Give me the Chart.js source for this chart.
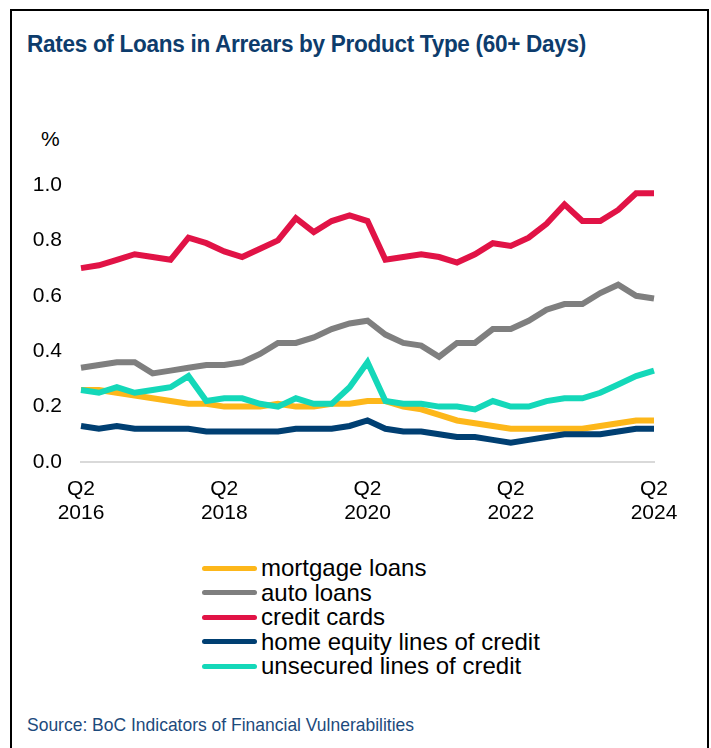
<!DOCTYPE html>
<html>
<head>
<meta charset="utf-8">
<script src="https://cdn.jsdelivr.net/npm/chart.js@4.4.1/dist/chart.umd.min.js"></script>
<style>
  html, body { margin: 0; padding: 0; background: #fff; }
  body { width: 711px; height: 748px; position: relative; overflow: hidden; font-family: "Liberation Sans", Arial, sans-serif; }
  .frame { position: absolute; left: 10px; top: 9px; width: 695px; height: 760px; border: 2px solid #000; border-bottom: none; }
  .title { position: absolute; left: 27px; top: 31px; font-family: "Liberation Sans", Arial, sans-serif; font-weight: bold; font-size: 23px; color: #0d3c6c; white-space: nowrap; transform-origin: left top; transform: scaleX(0.98); letter-spacing: -0.3px; }
  .unit { position: absolute; left: 41px; top: 127px; font-size: 21px; color: #000; }
  #chartWrap { position: absolute; left: 0; top: 0; width: 711px; height: 540px; }
  #legend { position: absolute; left: 202px; top: 556px; }
  #legend .row { height: 24.5px; display: flex; align-items: center; font-size: 24px; color: #000; white-space: nowrap; }
  #legend .swatch { width: 55px; height: 5px; border-radius: 3px; margin-right: 4px; }
  .source { position: absolute; left: 27px; top: 714px; font-family: "Liberation Sans", Arial, sans-serif; font-size: 19px; color: #1c4a7c; white-space: nowrap; transform-origin: left top; transform: scaleX(0.92); }
</style>
</head>
<body>
<div class="frame"></div>
<div class="title">Rates of Loans in Arrears by Product Type (60+ Days)</div>
<div class="unit">%</div>
<div id="chartWrap"><canvas id="arrearsChart" width="711" height="540"></canvas></div>
<div id="legend"></div>
<div class="source">Source: BoC Indicators of Financial Vulnerabilities</div>

<script>
// quarters, Q2 2016 through Q2 2024
const quarters = [
  "2016Q2", "2016Q3", "2016Q4", "2017Q1", "2017Q2", "2017Q3", "2017Q4", "2018Q1",
  "2018Q2", "2018Q3", "2018Q4", "2019Q1", "2019Q2", "2019Q3", "2019Q4", "2020Q1",
  "2020Q2", "2020Q3", "2020Q4", "2021Q1", "2021Q2", "2021Q3", "2021Q4", "2022Q1",
  "2022Q2", "2022Q3", "2022Q4", "2023Q1", "2023Q2", "2023Q3", "2023Q4", "2024Q1",
  "2024Q2"
];

const mortgageLoans = [
  0.26, 0.26, 0.25, 0.24, 0.23, 0.22, 0.21, 0.21, 0.20, 0.20, 0.20, 0.21, 0.20, 0.20, 0.21, 0.21,
  0.22, 0.22, 0.20, 0.19, 0.17, 0.15, 0.14, 0.13, 0.12, 0.12, 0.12, 0.12, 0.12, 0.13, 0.14, 0.15,
  0.15
];
const autoLoans = [
  0.34, 0.35, 0.36, 0.36, 0.32, 0.33, 0.34, 0.35, 0.35, 0.36, 0.39, 0.43, 0.43, 0.45, 0.48, 0.50,
  0.51, 0.46, 0.43, 0.42, 0.38, 0.43, 0.43, 0.48, 0.48, 0.51, 0.55, 0.57, 0.57, 0.61, 0.64, 0.60,
  0.59
];
const creditCards = [
  0.70, 0.71, 0.73, 0.75, 0.74, 0.73, 0.81, 0.79, 0.76, 0.74, 0.77, 0.80, 0.88, 0.83, 0.87, 0.89,
  0.87, 0.73, 0.74, 0.75, 0.74, 0.72, 0.75, 0.79, 0.78, 0.81, 0.86, 0.93, 0.87, 0.87, 0.91, 0.97,
  0.97
];
const homeEquityLines = [
  0.13, 0.12, 0.13, 0.12, 0.12, 0.12, 0.12, 0.11, 0.11, 0.11, 0.11, 0.11, 0.12, 0.12, 0.12, 0.13,
  0.15, 0.12, 0.11, 0.11, 0.10, 0.09, 0.09, 0.08, 0.07, 0.08, 0.09, 0.10, 0.10, 0.10, 0.11, 0.12,
  0.12
];
const unsecuredLines = [
  0.26, 0.25, 0.27, 0.25, 0.26, 0.27, 0.31, 0.22, 0.23, 0.23, 0.21, 0.20, 0.23, 0.21, 0.21, 0.27,
  0.36, 0.22, 0.21, 0.21, 0.20, 0.20, 0.19, 0.22, 0.20, 0.20, 0.22, 0.23, 0.23, 0.25, 0.28, 0.31,
  0.33
];

const yTicks = [0.0, 0.2, 0.4, 0.6, 0.8, 1.0];

const series = [
  { label: "mortgage loans", data: mortgageLoans, color: "#fdb71a", order: 4 },
  { label: "auto loans", data: autoLoans, color: "#7f7f7f", order: 5 },
  { label: "credit cards", data: creditCards, color: "#e11346", order: 3 },
  { label: "home equity lines of credit", data: homeEquityLines, color: "#003f72", order: 2 },
  { label: "unsecured lines of credit", data: unsecuredLines, color: "#14d8b9", order: 1 },
];

const ctx = document.getElementById("arrearsChart");

const config = {
  type: "line",
  data: {
    labels: quarters,
    datasets: series.map(function (s) {
      return {
        label: s.label,
        data: s.data,
        borderColor: s.color,
        backgroundColor: s.color,
        borderWidth: 6,
        pointRadius: 0,
        tension: 0,
        borderJoinStyle: "miter",
        order: s.order,
      };
    }),
  },
  options: {
    responsive: false,
    animation: false,
    layout: { padding: { left: 0, right: 57, top: 185, bottom: 0 } },
    scales: {
      x: {
        offset: false,
        grid: { display: false, drawTicks: false },
        border: { display: true, color: "#d9d9d9", width: 2 },
        ticks: {
          autoSkip: false,
          maxRotation: 0,
          padding: 15,
          color: "#000",
          font: { family: "'Liberation Sans', Arial, sans-serif", size: 21, lineHeight: 1.15 },
          callback: function (value, index) {
            const q = quarters[index];
            const year = parseInt(q.slice(0, 4), 10);
            if (q.slice(4) === "Q2" && year % 2 === 0) return ["Q2", String(year)];
            return "";
          },
        },
        afterFit: function (scale) { scale.height = 78; },
      },
      y: {
        min: 0,
        max: 1.0,
        grid: { display: false, drawTicks: false },
        border: { display: false },
        afterBuildTicks: function (scale) {
          scale.ticks = yTicks.map(function (v) { return { value: v }; });
        },
        ticks: {
          padding: 19,
          color: "#000",
          font: { family: "'Liberation Sans', Arial, sans-serif", size: 21 },
          callback: function (value) { return value.toFixed(1); },
        },
        afterFit: function (scale) { scale.width = 81; },
      },
    },
    plugins: {
      legend: { display: false },
      tooltip: { enabled: false },
      title: { display: false },
    },
  },
};

const arrearsChart = new Chart(ctx, config);

// legend listed in series order, one entry per row
const legendBox = document.getElementById("legend");
series.forEach(function (s) {
  const row = document.createElement("div");
  row.className = "row";
  const swatch = document.createElement("span");
  swatch.className = "swatch";
  swatch.style.background = s.color;
  const text = document.createElement("span");
  text.textContent = s.label;
  row.appendChild(swatch);
  row.appendChild(text);
  legendBox.appendChild(row);
});
</script>
</body>
</html>
